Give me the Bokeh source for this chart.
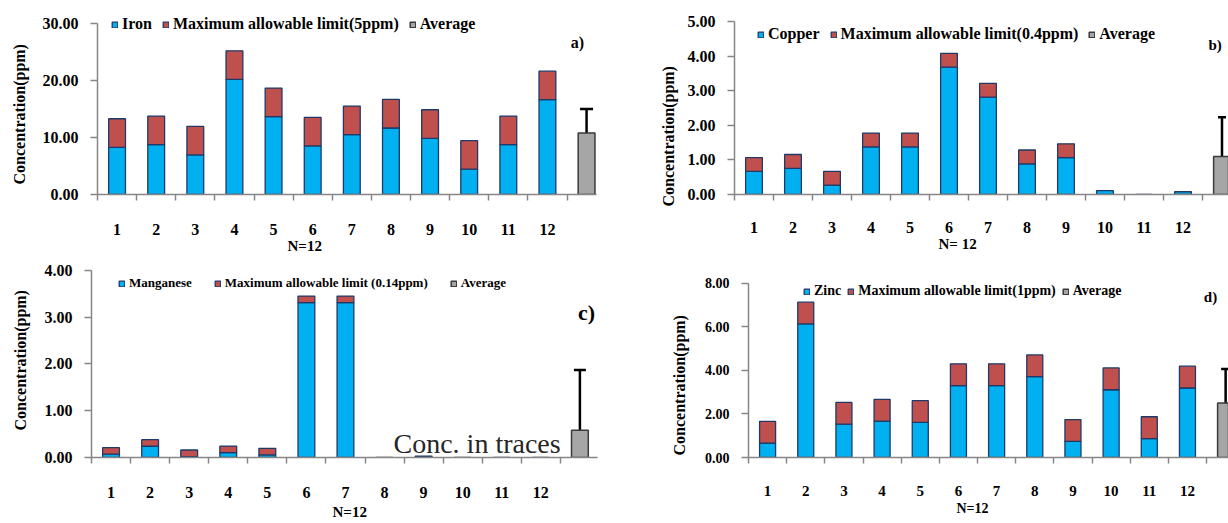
from bokeh.plotting import figure
from bokeh.models import (Range1d, FixedTicker, NumeralTickFormatter, Label, Legend,
                          LegendItem, Whisker, TeeHead, ColumnDataSource, Title)
from bokeh.layouts import column, row
from bokeh.embed import file_html
from bokeh.resources import INLINE

# ---------------- data ----------------
samples = ["1", "2", "3", "4", "5", "6", "7", "8", "9", "10", "11", "12"]

iron = [8.27, 8.74, 6.93, 20.16, 13.63, 8.50, 10.49, 11.65, 9.84, 4.43, 8.74, 16.60]
iron_limit = [5, 5, 5, 5, 5, 5, 5, 5, 5, 5, 5, 5]
iron_avg = [10.75]
iron_err = [6.41, 14.97]          # lower, upper

copper = [0.67, 0.76, 0.27, 1.38, 1.38, 3.69, 2.82, 0.89, 1.07, 0.11, 0.0, 0.08]
copper_limit = [0.4, 0.4, 0.4, 0.4, 0.4, 0.4, 0.4, 0.4, 0.4, 0, 0, 0]
copper_avg = [1.10]
copper_err = [0.0, 2.24]

manganese = [0.07, 0.24, 0.02, 0.105, 0.056, 3.31, 3.31, 0.0, 0.03, 0.0, 0.0, 0.0]
manganese_limit = [0.14, 0.14, 0.14, 0.14, 0.14, 0.14, 0.14, 0, 0, 0, 0, 0]
manganese_avg = [0.58]
manganese_err = [0.0, 1.87]

zinc = [0.66, 6.13, 1.53, 1.67, 1.61, 3.30, 3.30, 3.71, 0.74, 3.11, 0.87, 3.19]
zinc_limit = [1, 1, 1, 1, 1, 1, 1, 1, 1, 1, 1, 1]
zinc_avg = [2.50]
zinc_err = [0.90, 4.06]

legend_a = ["Iron", "Maximum allowable limit(5ppm)", "Average"]
legend_b = ["Copper", "Maximum allowable limit(0.4ppm)", "Average"]
legend_c = ["Manganese", "Maximum allowable limit (0.14ppm)", "Average"]
legend_d = ["Zinc", "Maximum allowable limit(1ppm)", "Average"]

yticks_a = [0, 10, 20, 30]
yticks_b = [0, 1, 2, 3, 4, 5]
yticks_c = [0, 1, 2, 3, 4]
yticks_d = [0, 2, 4, 6, 8]

ytitle = "Concentration(ppm)"

# ---------------- styles ----------------
BLUE = "#00B0F0"
RED = "#C0504D"
GRAY = "#A6A6A6"
EDGE = "#1F3A68"
AXIS = "#868686"
FONT = "Liberation Serif"


def make_panel(W, H, L, B, axis_top, axis_right, cat_px, y_max, yticks,
               conc, limit, avg, err, names, leg, tag, notes, ytl, xtl,
               tick_fs="16px", cat_fs="16px", cat_standoff=23, bar_w=0.43, cap=12):
    frame_h = H - B
    frame_w = W - L
    y_top = y_max * frame_h / (frame_h - axis_top)
    x_end = 0.5 + frame_w / cat_px
    x_axis_end = min(x_end, 0.5 + (axis_right - L) / cat_px)

    p = figure(width=W, height=H, x_range=Range1d(0.5, x_end),
               y_range=Range1d(0, y_top), output_backend="svg",
               toolbar_location=None, min_border_left=L, min_border_top=0,
               min_border_bottom=B, min_border_right=0)
    p.xgrid.visible = False
    p.ygrid.visible = False
    p.outline_line_color = None
    p.background_fill_color = "white"
    p.border_fill_color = "white"

    n = len(samples)
    xs = [i + 1 for i in range(n)]
    blue_src = ColumnDataSource(dict(x=xs, top=conc))
    r_blue = p.vbar(x="x", top="top", bottom=0, width=bar_w, source=blue_src,
                    fill_color=BLUE, line_color=EDGE, line_width=1.3)
    rx = [xs[i] for i in range(n) if limit[i] > 0]
    rb = [conc[i] for i in range(n) if limit[i] > 0]
    rt = [conc[i] + limit[i] for i in range(n) if limit[i] > 0]
    red_src = ColumnDataSource(dict(x=rx, bottom=rb, top=rt))
    r_red = p.vbar(x="x", top="top", bottom="bottom", width=bar_w, source=red_src,
                   fill_color=RED, line_color=EDGE, line_width=1.3)
    avg_src = ColumnDataSource(dict(x=[n + 1], top=avg,
                                    lower=[err[0]], upper=[err[1]]))
    r_avg = p.vbar(x="x", top="top", bottom=0, width=bar_w, source=avg_src,
                   fill_color=GRAY, line_color="#3A3A3A", line_width=1.5)

    wh = Whisker(source=avg_src, base="x", lower="lower", upper="upper",
                 dimension="height", line_color="black", line_width=2.5,
                 upper_head=TeeHead(size=cap, line_color="black", line_width=2.5),
                 lower_head=(TeeHead(size=cap, line_color="black", line_width=2.5)
                             if err[0] > 0 else None))
    p.add_layout(wh)

    # x axis: labels at sample centres, tick marks between samples
    xa = p.xaxis[0]
    xa.ticker = FixedTicker(ticks=xs, minor_ticks=[i + 0.5 for i in range(n + 1)])
    xa.major_label_overrides = {xs[i]: samples[i] for i in range(n)}
    xa.bounds = (0.5, x_axis_end)
    xa.axis_line_color = AXIS
    xa.axis_line_width = 1.5
    xa.major_tick_line_color = None
    xa.major_tick_out = 0
    xa.major_tick_in = 0
    xa.minor_tick_line_color = AXIS
    xa.minor_tick_line_width = 1.5
    xa.minor_tick_out = 6
    xa.minor_tick_in = 0
    xa.major_label_standoff = cat_standoff
    xa.major_label_text_font = FONT
    xa.major_label_text_font_style = "bold"
    xa.major_label_text_font_size = cat_fs
    xa.major_label_text_color = "black"

    ya = p.yaxis[0]
    ya.ticker = FixedTicker(ticks=yticks)
    ya.formatter = NumeralTickFormatter(format="0.00")
    ya.bounds = (0, y_max)
    ya.axis_line_color = AXIS
    ya.axis_line_width = 1.5
    ya.major_tick_line_color = AXIS
    ya.major_tick_line_width = 1.5
    ya.major_tick_out = 7
    ya.major_tick_in = 0
    ya.minor_tick_line_color = None
    ya.major_label_standoff = 12
    ya.major_label_text_font = FONT
    ya.major_label_text_font_style = "bold"
    ya.major_label_text_font_size = tick_fs
    ya.major_label_text_color = "black"

    # axis titles (side panels)
    off, st = ytl
    p.add_layout(Title(text=ytitle, align="left", offset=off, standoff=st,
                       vertical_align="top", text_font=FONT,
                       text_font_style="bold", text_font_size="16px",
                       text_color="black"), "left")
    xt, xoff, xst, xva, xfs = xtl
    p.add_layout(Title(text=xt, align="left", offset=xoff, standoff=xst,
                       vertical_align=xva, text_font=FONT,
                       text_font_style="bold", text_font_size=xfs,
                       text_color="black"), "below")

    # legend inside the frame, above the top of the value axis
    lx, ly, lfs, lsp = leg
    legend = Legend(items=[LegendItem(label=names[0], renderers=[r_blue]),
                           LegendItem(label=names[1], renderers=[r_red]),
                           LegendItem(label=names[2], renderers=[r_avg])],
                    orientation="horizontal", location=(lx, ly),
                    glyph_width=7, glyph_height=7, label_standoff=4,
                    spacing=lsp, padding=0, margin=0, label_height=16,
                    background_fill_alpha=0, border_line_color=None,
                    label_text_font=FONT, label_text_font_style="bold",
                    label_text_font_size=lfs, label_text_color="black")
    p.add_layout(legend)

    for (txt, sx, sy, fs, style, align, base, color) in notes + [tag]:
        p.add_layout(Label(x=sx, y=sy, x_units="screen", y_units="screen",
                           text=txt, text_font=FONT, text_font_style=style,
                           text_font_size=fs, text_color=color,
                           text_align=align, text_baseline=base))
    return p


pa = make_panel(620, 255, 96, 61, 22.7, 596, 39.2, 30, yticks_a, iron, iron_limit,
                iron_avg, iron_err, legend_a, (14, 161, "16px", 10),
                ("a)", 480, 152, "16px", "bold", "center", "middle", "black"), [],
                (10, 20), ("N=12", 190, 0, "top", "15px"),
                cat_standoff=23, cap=13)

pb = make_panel(608, 255, 114, 59, 21.7, 1228, 39.0, 5, yticks_b, copper,
                copper_limit, copper_avg, copper_err, legend_b,
                (23, 151, "16px", 10),
                ("b)", 474, 150, "15px", "bold", "left", "middle", "black"), [],
                (-12, 12), ("N= 12", 204, 0, "top", "15px"),
                cat_standoff=21, cap=8)

pc = make_panel(620, 268, 89, 64, 15, 596.7, 39.22, 4, yticks_c, manganese,
                manganese_limit, manganese_avg, manganese_err, legend_c,
                (27, 166, "13px", 22),
                ("c)", 495, 145, "22px", "bold", "center", "middle", "black"),
                [("Conc. in traces", 302, -1, "28px", "normal", "left", "bottom",
                  "#262626")],
                (27, 22), ("N=12", 241, 3, "bottom", "15px"),
                cat_standoff=23, cap=12)

pd_ = make_panel(608, 268, 128, 66, 27.7, 1228, 38.17, 8, yticks_d, zinc,
                 zinc_limit, zinc_avg, zinc_err, legend_d, (55, 158, "14px", 6),
                 ("d)", 462, 161, "15px", "bold", "center", "middle", "black"), [],
                 (2, 23), ("N=12", 208, 4, "top", "14px"),
                 tick_fs="14px", cat_fs="15px", cat_standoff=22, bar_w=0.42, cap=9)

layout = column(row(pa, pb), row(pc, pd_))
open("out.html", "w").write(file_html(layout, INLINE))
